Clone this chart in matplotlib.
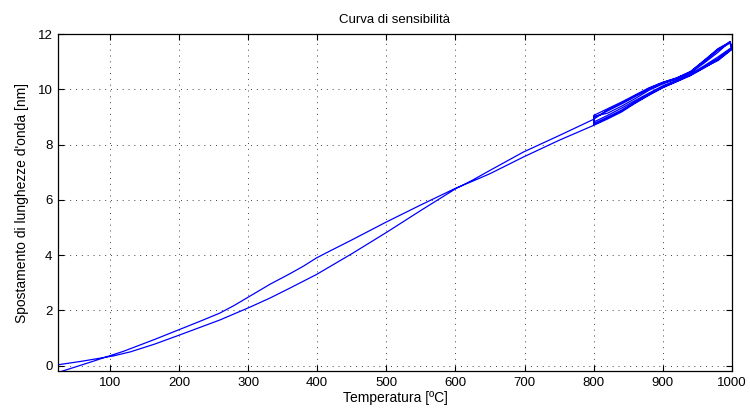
import matplotlib
matplotlib.use("Agg")
import matplotlib.pyplot as plt
import numpy as np

plt.rcParams['font.family'] = ['Liberation Sans', 'DejaVu Sans']

# First heating ramp: room temperature up to 800 °C
heat_T = [25, 50, 75, 93, 120, 165, 200, 230, 259, 280, 303, 332, 360, 380, 399,
          420, 450, 500, 550, 600, 625, 650, 698, 750, 800]
heat_S = [-0.25, -0.05, 0.15, 0.30, 0.52, 0.95, 1.30, 1.60, 1.90, 2.18, 2.52, 2.95, 3.32, 3.60, 3.90,
          4.17, 4.55, 5.20, 5.82, 6.42, 6.68, 6.95, 7.55, 8.16, 8.70]

# Thermal cycles between 800 and 1000 °C
cyc_up_T = [800, 820, 840, 860, 880, 900, 920, 940, 960, 980, 1000]
cyc_down_T = [997, 980, 960, 940, 920, 900, 880, 860, 840, 820, 800]

cyc1_up = [8.70, 8.93, 9.18, 9.50, 9.79, 10.06, 10.28, 10.50, 10.78, 11.08, 11.47]
cyc1_down = [11.72, 11.48, 11.06, 10.65, 10.42, 10.26, 10.06, 9.80, 9.54, 9.30, 9.06]
cyc2_up = [8.76, 9.00, 9.25, 9.55, 9.83, 10.10, 10.31, 10.53, 10.82, 11.12, 11.50]
cyc2_down = [11.68, 11.42, 11.01, 10.62, 10.40, 10.23, 10.01, 9.74, 9.47, 9.22, 8.98]
cyc3_up = [8.82, 9.06, 9.32, 9.60, 9.87, 10.13, 10.33, 10.56, 10.86, 11.18, 11.53]
cyc3_down = [11.74, 11.35, 10.96, 10.60, 10.38, 10.20, 9.97, 9.67, 9.39, 9.14, 9.02]
cyc4_up = [8.73, 8.96, 9.22, 9.52, 9.81, 10.08, 10.29, 10.52, 10.80, 11.05, 11.45]
cyc4_down = [11.70, 11.46, 11.04, 10.64, 10.41, 10.25, 10.04, 9.77, 9.50, 9.26, 8.92]

# Final cooling ramp: 800 °C back to room temperature
cool_T = [800, 750, 698, 650, 625, 600, 550, 500, 450, 399, 360, 332, 303, 259, 200,
          165, 130, 105, 93, 60, 25]
cool_S = [8.92, 8.33, 7.73, 7.07, 6.72, 6.40, 5.62, 4.82, 4.05, 3.30, 2.80, 2.45, 2.12, 1.65, 1.10,
          0.78, 0.50, 0.35, 0.30, 0.16, 0.03]

T = list(heat_T)
S = list(heat_S)
for up, down in [(cyc1_up, cyc1_down), (cyc2_up, cyc2_down),
                 (cyc3_up, cyc3_down), (cyc4_up, cyc4_down)]:
    T += cyc_up_T + cyc_down_T
    S += up + down
T += cool_T
S += cool_S

fig = plt.figure(figsize=(7.5, 4.17), dpi=100)
ax = fig.add_axes([0.0773, 0.110, 0.8987, 0.808])
ax.plot(T, S, color='#0000ff', linewidth=0.9)

ax.set_xlim(25, 1000)
ax.set_ylim(-0.2, 12)
ax.set_xticks(np.arange(100, 1001, 100))
ax.set_yticks(np.arange(0, 13, 2))
ax.tick_params(direction='in', top=True, right=True, length=4, width=0.8,
               labelsize=9.5, colors='black', pad=4)
for sp in ax.spines.values():
    sp.set_linewidth(0.9)
ax.grid(True, color='#444444', linestyle=(0, (1, 5)), linewidth=0.7)

ax.set_title('Curva di sensibilità', fontsize=9.5, pad=8)
ax.set_xlabel('Temperatura [ºC]', fontsize=10, labelpad=2)
ax.set_ylabel("Spostamento di lunghezze d'onda [nm]", fontsize=10, labelpad=6)

fig.savefig('out.png', dpi=100)
